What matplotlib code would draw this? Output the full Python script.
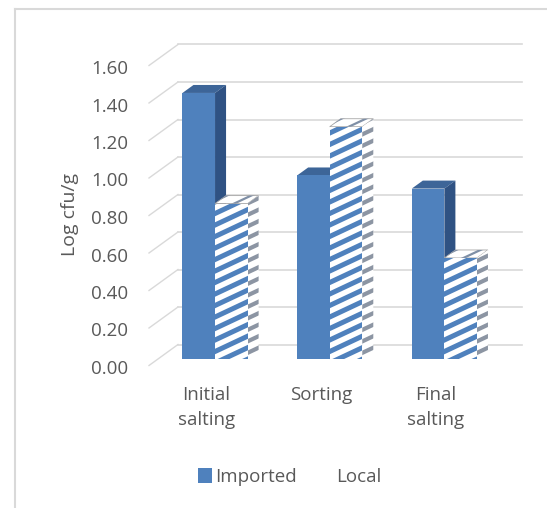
import matplotlib
matplotlib.use("Agg")
import matplotlib.pyplot as plt
from matplotlib.patches import Polygon, Patch
from matplotlib.lines import Line2D
import numpy as np

plt.rcParams['font.family'] = ['Open Sans', 'DejaVu Sans']

categories = ["Initial\nsalting", "Sorting", "Final\nsalting"]
imported = [1.42, 0.98, 0.91]
local = [0.83, 1.24, 0.54]
y_ticks = [0.0, 0.2, 0.4, 0.6, 0.8, 1.0, 1.2, 1.4, 1.6]
series_names = ["Imported", "Local"]

W, H = 547, 508
# pixel mapping of the front plane of the floor
X0, PX_X = 149.0, 114.67
Y0, PX_V = 365.5, 187.5
DEPTH_PX = (29.0, -21.0)
ddx = DEPTH_PX[0] / PX_X
ddv = -DEPTH_PX[1] / PX_V

TXT = '#595959'
GRID = '#D9D9D9'
BLUE = '#4F81BD'
BLUE_TOP = '#3D6598'
BLUE_SIDE = '#2F5283'
FS = 13.5

fig = plt.figure(figsize=(W / 100, H / 100), dpi=100)
ax = fig.add_axes([0, 0, 1, 1])
ax.set_xlim(-X0 / PX_X, (W - X0) / PX_X)
ax.set_ylim((Y0 - H) / PX_V, Y0 / PX_V)
ax.axis('off')

n = len(categories)

# back wall gridlines + floor diagonals
for t in y_ticks:
    ax.plot([ddx, n + ddx], [t + ddv, t + ddv], color=GRID, lw=1.2, zorder=1)
    ax.plot([0, ddx], [t, t + ddv], color=GRID, lw=1.0, zorder=1)
    ax.text(-0.183, t - 3.5 / PX_V, f"{t:.2f}", ha='right', va='center', fontsize=FS, color=TXT)

d_front = 0.30
d_back = 0.68
fx, fv = d_front * ddx, d_front * ddv
sx, sv = (d_back - d_front) * ddx, (d_back - d_front) * ddv
w = 0.284


def stripes(x0, x1, y0, y1, clip, color, lw, z):
    # diagonal stripes, drawn in pixel-like proportions
    slope = 0.47 * PX_X / PX_V
    period = 11.5 / PX_V
    span = (x1 - x0) * slope
    k = y0 - span - period
    while k < y1 + period:
        ln, = ax.plot([x0 - 0.1, x1 + 0.1], [k - 0.1 * slope, k + (x1 - x0 + 0.1) * slope],
                      color=color, lw=lw, zorder=z, solid_capstyle='butt')
        ln.set_clip_path(clip)
        k += period


for i in range(n):
    c = i + 0.5 + fx
    base = fv
    # imported bar
    xl, xr, top = c - w, c, base + imported[i]
    ax.add_patch(Polygon([(xl, top), (xr, top), (xr + sx, top + sv), (xl + sx, top + sv)],
                         closed=True, fc=BLUE_TOP, ec='none', zorder=3))
    ax.add_patch(Polygon([(xr, base), (xr, top), (xr + sx, top + sv), (xr + sx, base + sv)],
                         closed=True, fc=BLUE_SIDE, ec='none', zorder=3))
    ax.bar(xl, imported[i], width=w, bottom=base, align='edge', color=BLUE, zorder=4)

    # local bar
    xl, xr, top = c, c + w, base + local[i]
    tp = Polygon([(xl, top), (xr, top), (xr + sx, top + sv), (xl + sx, top + sv)],
                 closed=True, fc='white', ec='#A6A6A6', lw=0.6, zorder=5)
    ax.add_patch(tp)
    stripes(xl, xr + sx, top, top + sv, tp, '#7F8FA6', 1.6, 5.1)
    sp = Polygon([(xr, base), (xr, top), (xr + sx, top + sv), (xr + sx, base + sv)],
                 closed=True, fc='white', ec='none', zorder=5)
    ax.add_patch(sp)
    stripes(xr, xr + sx, base, top + sv, sp, '#8C95A3', 3.0, 5.1)
    bars = ax.bar(xl, local[i], width=w, bottom=base, align='edge', color='white', zorder=6)
    stripes(xl, xr, base, top, bars[0], BLUE, 3.6, 6.1)

    ax.text(i + 0.5, (Y0 - 386) / PX_V, categories[i], ha='center', va='top',
            fontsize=FS, color=TXT, linespacing=1.5)

ax.text(-1.3 + 70 / PX_X, (Y0 - 215) / PX_V, "Log cfu/g", rotation=90, ha='center',
        va='center', fontsize=14, color=TXT)

handles = [Patch(fc=BLUE, ec='none'), Patch(fc='white', ec='none')]
fig.legend(handles, series_names, loc='center', bbox_to_anchor=(290 / W, 1 - 477 / H),
           ncol=2, frameon=False, fontsize=FS, labelcolor=TXT, handlelength=0.7,
           handleheight=0.85, handletextpad=0.2, columnspacing=1.2)

# chart border
fig.add_artist(Line2D([15 / W, 15 / W], [0, 1 - 9 / H], color=GRID, lw=1.5))
fig.add_artist(Line2D([15 / W, 1], [1 - 9 / H, 1 - 9 / H], color=GRID, lw=1.5))

fig.savefig("out.png", dpi=100)
